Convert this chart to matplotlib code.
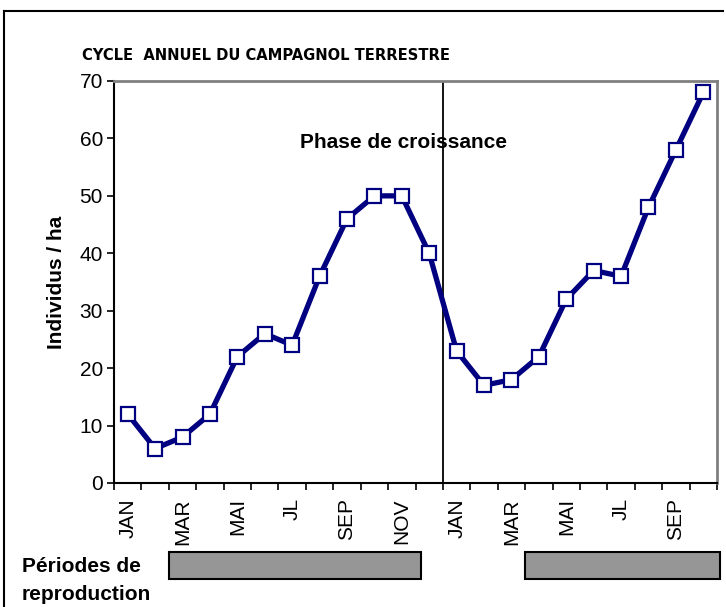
import matplotlib.pyplot as plt
import numpy as np
from matplotlib.lines import Line2D

plt.rcParams["font.family"] = ["Liberation Sans", "DejaVu Sans"]

# population density, one value per month over two years (JAN .. OCT)
density = [12, 6, 8, 12, 22, 26, 24, 36, 46, 50, 50, 40,
           23, 17, 18, 22, 32, 37, 36, 48, 58, 68]
tick_labels = ["JAN", "MAR", "MAI", "JL", "SEP", "NOV",
               "JAN", "MAR", "MAI", "JL", "SEP"]
# breeding periods, in month index units
repro_start = [2.0, 15.0]
repro_end = [11.2, 22.1]
year_break = 11.5

NAVY = "#000080"

fig = plt.figure(figsize=(7.26, 6.07), dpi=100)
ax = fig.add_axes([114 / 726, 1 - 483 / 607, 603 / 726, 402 / 607])

x = np.arange(len(density))
ax.plot(x, density, color=NAVY, lw=3.8, marker="s", ms=9.5,
        mfc="white", mec=NAVY, mew=1.6, zorder=3, clip_on=False)
ax.axvline(year_break, color="black", lw=1.3, zorder=2)

ax.set_xlim(-0.5, len(density) - 0.5)
ax.set_ylim(0, 70)
ax.set_yticks(range(0, 71, 10))
ax.set_xticks(x[::2])
ax.set_xticklabels(tick_labels, rotation=90)
ax.set_xticks(np.arange(-0.5, len(density), 1), minor=True)
ax.tick_params(axis="x", which="major", length=0, pad=11, labelsize=15)
ax.tick_params(axis="x", which="minor", length=5, width=1.2)
ax.tick_params(axis="y", length=5, width=1.2, labelsize=15, pad=3)

for side in ["top", "right"]:
    ax.spines[side].set_color("#808080")
    ax.spines[side].set_linewidth(2)
for side in ["left", "bottom"]:
    ax.spines[side].set_linewidth(1.5)

ax.set_ylabel("Individus / ha", fontsize=15, fontweight="bold", labelpad=10)
ax.text(0.48, 0.847, "Phase de croissance", transform=ax.transAxes,
        fontsize=15, fontweight="bold", ha="center", va="center")

fig.text(82 / 726, 1 - 55 / 607, "CYCLE  ANNUEL DU CAMPAGNOL TERRESTRE",
         family="DejaVu Sans", fontstretch="condensed",
         fontsize=11.8, fontweight="bold", ha="left", va="center")

# breeding periods bar strip
bx = fig.add_axes([114 / 726, 1 - 579 / 607, 603 / 726, 27 / 607])
bx.set_xlim(ax.get_xlim())
bx.set_ylim(0, 1)
for s, e in zip(repro_start, repro_end):
    bx.barh(0.5, e - s, left=s - 0.5, height=1, color="#969696",
            edgecolor="black", lw=1.5, clip_on=False)
bx.axis("off")

fig.text(22 / 726, 1 - 566 / 607, "Périodes de", fontsize=15,
         fontweight="bold", ha="left", va="center")
fig.text(22 / 726, 1 - 595 / 607, "reproduction", fontsize=15,
         fontweight="bold", ha="left", va="center")

# outer frame (top and left edges visible)
fig.add_artist(Line2D([4 / 726, 723 / 726], [1 - 11 / 607, 1 - 11 / 607],
                      color="black", lw=1.5))
fig.add_artist(Line2D([4 / 726, 4 / 726], [1 - 11 / 607, 0],
                      color="black", lw=1.5))

fig.savefig("out.png", dpi=100)
